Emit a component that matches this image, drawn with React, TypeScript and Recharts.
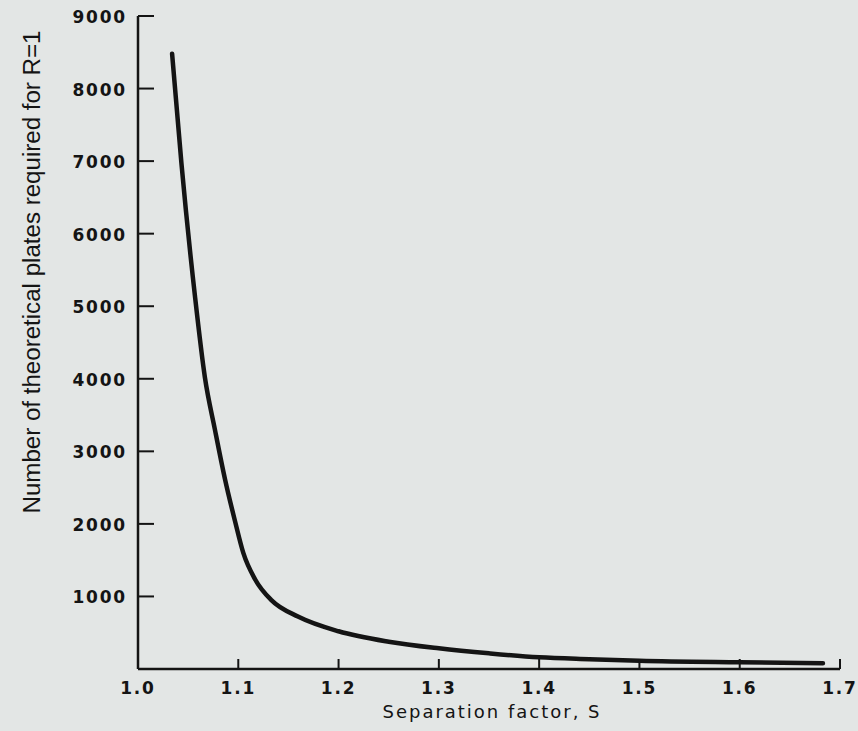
import { Label, Line, LineChart, XAxis, YAxis } from "recharts";

// separation factor S and plates needed for R = 1
const S_VALUES = [
  1.034, 1.0433, 1.0567, 1.0667, 1.0767, 1.0867, 1.0967, 1.105, 1.117, 1.133,
  1.16, 1.2, 1.25, 1.3, 1.35, 1.4, 1.45, 1.5, 1.6, 1.683,
];
const PLATES = [
  8480, 6970, 5150, 4020, 3300, 2620, 2040, 1600, 1230, 950,
  720, 520, 376, 285, 216, 161, 135, 114, 92, 78,
];
const X_TICKS = [1.0, 1.1, 1.2, 1.3, 1.4, 1.5, 1.6, 1.7];
const Y_TICKS = [1000, 2000, 3000, 4000, 5000, 6000, 7000, 8000, 9000];

const data = S_VALUES.map((s, i) => ({ s, n: PLATES[i] }));

const WIDTH = 858;
const HEIGHT = 731;
const AXIS_X = 138;
const AXIS_Y = 669;
const INK = "#141414";
const TICK_FONT = {
  fontFamily: "'DejaVu Sans', sans-serif",
  fontWeight: 700,
  fontSize: 17,
  letterSpacing: 1.8,
  fill: INK,
};

function YTick({ y, payload }: any) {
  return (
    <g>
      <line x1={AXIS_X} x2={AXIS_X + 16} y1={y} y2={y} stroke={INK} strokeWidth={2} />
      <text x={AXIS_X - 11} y={y + 1} textAnchor="end" dominantBaseline="central" {...TICK_FONT}>
        {payload.value}
      </text>
    </g>
  );
}

function XTick({ x, payload }: any) {
  return (
    <g>
      {payload.value > 1 && (
        <line x1={x} x2={x} y1={AXIS_Y} y2={AXIS_Y - 10} stroke={INK} strokeWidth={2} />
      )}
      <text x={x} y={AXIS_Y + 19} textAnchor="middle" dominantBaseline="central" {...TICK_FONT}>
        {Number(payload.value).toFixed(1)}
      </text>
    </g>
  );
}

export default function App() {
  return (
    <div style={{ position: "fixed", left: 0, top: 0, width: WIDTH, height: HEIGHT, background: "#e3e6e5" }}>
      <LineChart
        width={WIDTH}
        height={HEIGHT}
        data={data}
        margin={{ top: 16, right: WIDTH - 840, bottom: 0, left: 0 }}
      >
        <XAxis
          dataKey="s"
          type="number"
          domain={[1.0, 1.7]}
          ticks={X_TICKS}
          interval={0}
          height={HEIGHT - AXIS_Y}
          tickSize={0}
          tickMargin={0}
          tickLine={false}
          tick={<XTick />}
          axisLine={{ stroke: INK, strokeWidth: 2.5 }}
          allowDataOverflow
        >
          <Label
            content={() => (
              <text
                x={491}
                y={711}
                textAnchor="middle"
                dominantBaseline="central"
                fontFamily="'DejaVu Sans', sans-serif"
                fontSize={18}
                textLength={217}
                fill={INK}
              >
                Separation factor, S
              </text>
            )}
          />
        </XAxis>
        <YAxis
          dataKey="n"
          type="number"
          domain={[0, 9000]}
          ticks={Y_TICKS}
          interval={0}
          width={AXIS_X}
          tickSize={0}
          tickMargin={0}
          tickLine={false}
          tick={<YTick />}
          axisLine={{ stroke: INK, strokeWidth: 2.5 }}
          allowDataOverflow
        >
          <Label
            content={() => (
              <text
                x={32}
                y={272}
                transform="rotate(-90 32 272)"
                textAnchor="middle"
                dominantBaseline="central"
                fontFamily="'Liberation Sans Narrow', 'Liberation Sans', Arial, sans-serif"
                fontSize={23}
                textLength={483}
                lengthAdjust="spacingAndGlyphs"
                fill={INK}
              >
                Number of theoretical plates required for R=1
              </text>
            )}
          />
        </YAxis>
        <Line
          type="monotone"
          dataKey="n"
          stroke={INK}
          strokeWidth={4.5}
          strokeLinecap="round"
          dot={false}
          isAnimationActive={false}
        />
      </LineChart>
    </div>
  );
}
